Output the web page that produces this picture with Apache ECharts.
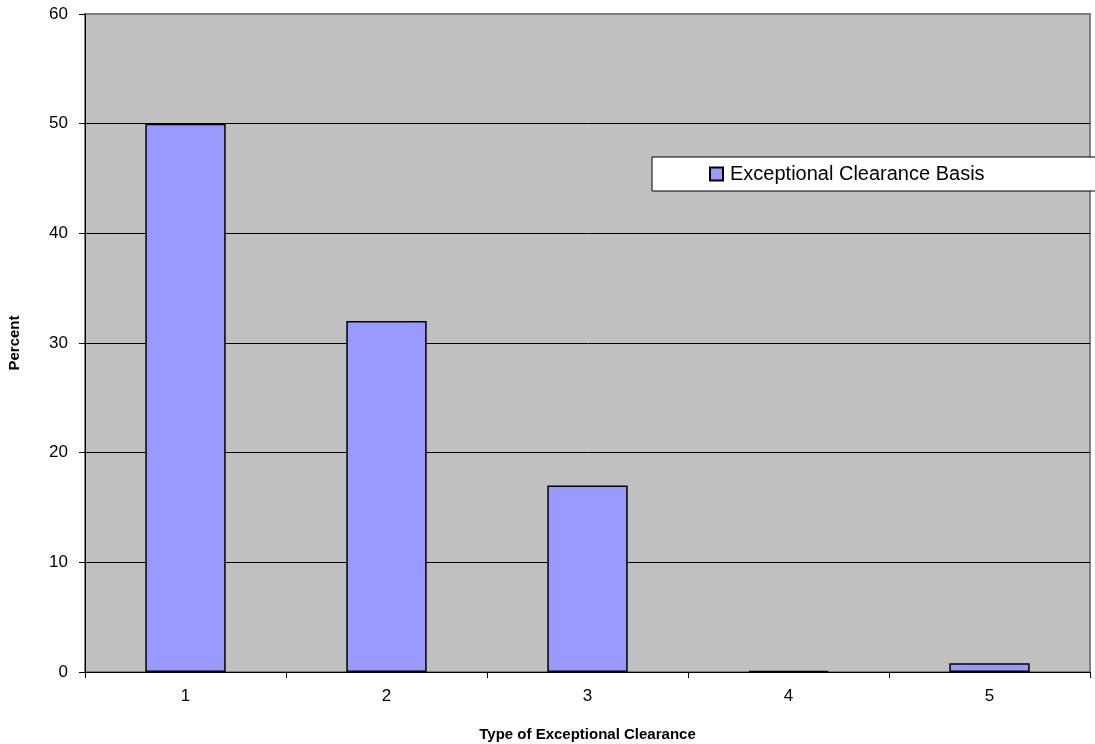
<!DOCTYPE html>
<html>
<head>
<meta charset="utf-8">
<script src="https://cdn.jsdelivr.net/npm/echarts@6/dist/echarts.min.js"></script>
<style>html,body{margin:0;padding:0;background:#fff}#c{width:1095px;height:744px}</style>
</head>
<body>
<div id="c"></div>
<script>
const categories = ['1', '2', '3', '4', '5'];
const seriesName = 'Exceptional Clearance Basis';
const values = [50, 32, 17, 0.1, 0.8];
const yTicks = [0, 10, 20, 30, 40, 50, 60];

const chart = echarts.init(document.getElementById('c'));
chart.setOption({
  animation: false,
  backgroundColor: '#ffffff',
  textStyle: { fontFamily: 'Liberation Sans, Arial, sans-serif' },
  grid: {
    left: 85, right: 5, top: 14, bottom: 72,
    outerBoundsMode: 'none',
    containLabel: false,
    show: true, backgroundColor: '#c0c0c0', borderColor: '#808080', borderWidth: 2
  },
  legend: {
    data: [seriesName],
    left: 652, top: 157,
    padding: [7, 120, 7, 57],
    backgroundColor: '#ffffff',
    borderColor: '#000000', borderWidth: 1,
    itemWidth: 13, itemHeight: 13,
    icon: 'rect',
    textStyle: { fontSize: 20, color: '#000', fontFamily: 'Liberation Sans, Arial, sans-serif', padding: [0, 0, 0, 2] },
    selectedMode: false
  },
  xAxis: {
    type: 'category',
    data: categories,
    name: 'Type of Exceptional Clearance',
    nameLocation: 'middle',
    nameGap: 55,
    nameTextStyle: { fontSize: 15, fontWeight: 'bold', color: '#000' },
    axisLine: { lineStyle: { color: '#000', width: 1 } },
    axisTick: { show: true, alignWithLabel: false, length: 6, lineStyle: { color: '#000' } },
    axisLabel: { fontSize: 17, color: '#000', margin: 16 }
  },
  yAxis: {
    type: 'value',
    min: yTicks[0], max: yTicks[yTicks.length - 1], interval: 10,
    name: 'Percent',
    nameLocation: 'middle',
    nameGap: 63,
    nameRotate: 90,
    nameTextStyle: { fontSize: 15, fontWeight: 'bold', color: '#000' },
    axisLine: { show: true, lineStyle: { color: '#000', width: 1 } },
    axisTick: { show: true, length: 6, lineStyle: { color: '#000' } },
    axisLabel: { fontSize: 17, color: '#000', margin: 17 },
    splitLine: { show: true, lineStyle: { color: ['#000', '#000', '#000', '#000', '#000', '#000', '#808080'], width: 1 } }
  },
  series: [{
    name: seriesName,
    type: 'bar',
    data: values,
    barCategoryGap: '60%',
    itemStyle: { color: '#9999ff', borderColor: '#000', borderWidth: 1.5 }
  }]
});
</script>
</body>
</html>
